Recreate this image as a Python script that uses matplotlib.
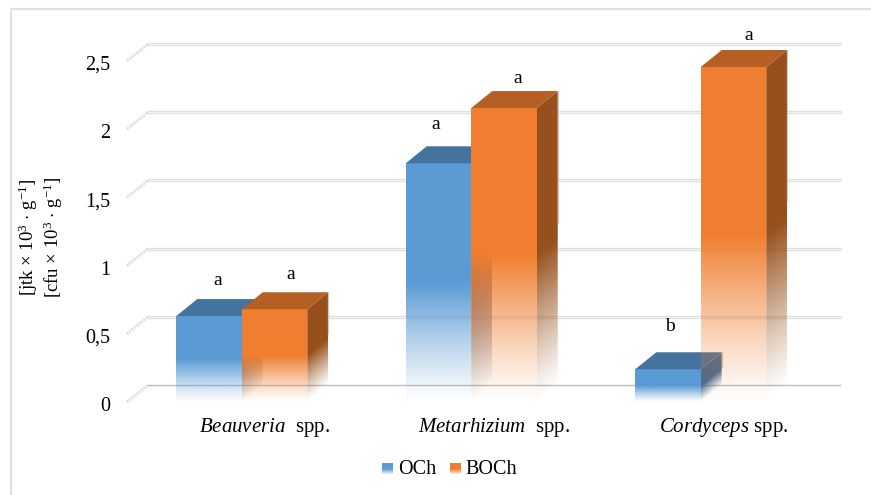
import numpy as np
import matplotlib
matplotlib.use('Agg')
import matplotlib.pyplot as plt
from matplotlib.colors import to_rgb
from matplotlib.lines import Line2D
from matplotlib.transforms import ScaledTranslation

plt.rcParams['font.family'] = ['Liberation Serif', 'DejaVu Serif']
plt.rcParams['mathtext.fontset'] = 'custom'
plt.rcParams['mathtext.rm'] = 'Liberation Serif'
plt.rcParams['mathtext.it'] = 'Liberation Serif:italic'
plt.rcParams['mathtext.bf'] = 'Liberation Serif:bold'

# Data
categories = [r'$\mathit{Beauveria}$  spp.', r'$\mathit{Metarhizium}$  spp.', r'$\mathit{Cordyceps}$ spp.']
series_names = ['OCh', 'BOCh']
och = [0.63, 1.75, 0.24]
boch = [0.68, 2.155, 2.456]
och_letters = ['a', 'a', 'b']
boch_letters = ['a', 'a', 'a']
y_ticks = [0, 0.5, 1, 1.5, 2, 2.5]
y_labels = ['0', '0,5', '1', '1,5', '2', '2,5']

# Styles: (face, top, side)
blue = ('#5B9BD5', '#44739E', '#46698F')
orange = ('#F07E30', '#B55F25', '#97501C')

W, H = 871, 495
y_top = 2.85
px_x = 229.5 * 3
px_y = 136.4 * y_top
dx = 21 / 229.5
dy = 17 / 136.4
bar_w = 65.5 / 229.5

fig = plt.figure(figsize=(W / 100, H / 100), dpi=100)
ax = fig.add_axes([127 / W, 1 - 402 / H, px_x / W, px_y / H])
for s in ax.spines.values():
    s.set_visible(False)
ax.patch.set_visible(False)

# outer frame
fig.add_artist(Line2D([10.5 / W, 10.5 / W, 1], [0, 1 - 8.5 / H, 1 - 8.5 / H], color='#e2e2e2', lw=1.6))

# gridlines on the back wall, with the slanted part down to the front plane
for t in y_ticks:
    yb = t + dy
    x0, x1 = -0.5 + dx, 2.5 + dx + 3 / 229.5
    if t == 0:
        ax.plot([x0, x1], [yb, yb], color='#bdbdbd', lw=1.0, zorder=1, clip_on=False)
    else:
        ax.plot([x0, x1], [yb, yb], color='#dedede', lw=2.4, zorder=1, solid_capstyle='round', clip_on=False)
        ax.plot([x0, x1], [yb, yb], color='#f5f5f5', lw=0.8, zorder=1, clip_on=False)
    ax.plot([-0.5, x0], [t, yb], color='#dcdcdc', lw=2.2, zorder=1, ls=(0, (0.6, 0.4)), clip_on=False)


def fade_image(poly, color, skew):
    # poly is filled with color, alpha dropping towards the floor of the chart
    poly = np.array(poly)
    xs = np.linspace(poly[:, 0].min(), poly[:, 0].max(), 60)
    ys = np.linspace(poly[:, 1].min(), poly[:, 1].max(), 300)
    gx, gy = np.meshgrid(xs, ys)
    img = np.zeros(gx.shape + (4,))
    img[..., :3] = to_rgb(color)
    return xs, ys, gy - (gx - xs[0]) * skew, img, poly


def draw_bar(left, value, colors, z):
    right = left + bar_w
    front = [(left, 0), (right, 0), (right, value), (left, value)]
    top = [(left, value), (right, value), (right + dx, value + dy), (left + dx, value + dy)]
    side = [(right, 0), (right + dx, dy), (right + dx, value + dy), (right, value)]
    fade_h = value * 0.5
    for poly, color, skew in ((side, colors[2], dy / dx), (front, colors[0], 0)):
        xs, ys, h, img, pts = fade_image(poly, color, skew)
        img[..., 3] = np.clip(h / fade_h, 0, 1) ** 1.15
        im = ax.imshow(img, extent=(xs[0], xs[-1], ys[0], ys[-1]), origin='lower',
                       aspect='auto', interpolation='bilinear', zorder=z)
        patch = plt.Polygon(pts, transform=ax.transData, fc='none', ec='none')
        ax.add_patch(patch)
        im.set_clip_path(patch)
    ax.fill(*zip(*top), color=colors[1], lw=0, zorder=z)
    # pale halo along the bar edge
    ax.plot([right + dx, right + dx], [value + dy, value * 0.55 + dy], color='#d9c9bd', lw=0.9, zorder=z)


for i in range(len(categories)):
    draw_bar(i - bar_w, och[i], blue, 3 + i)
    draw_bar(i, boch[i], orange, 3 + i + 0.5)

ax.set_xlim(-0.5, 2.5)
ax.set_ylim(0, y_top)

# significance letters, placed by hand in the original
och_off = [(9, 36), (-3, 39), (2, 43)]
boch_off = [(16, 35), (14, 30), (15, 32)]
for i in range(len(categories)):
    ax.annotate(och_letters[i], (i - bar_w / 2, och[i]), xytext=och_off[i], textcoords='offset pixels',
                ha='center', va='center', fontsize=14, annotation_clip=False)
    ax.annotate(boch_letters[i], (i + bar_w / 2, boch[i]), xytext=boch_off[i], textcoords='offset pixels',
                ha='center', va='center', fontsize=14, annotation_clip=False)

ax.set_yticks(y_ticks, y_labels, fontsize=14.5)
ax.set_xticks([i + dx + 0.008 for i in range(len(categories))], categories, fontsize=15)
ax.tick_params(axis='both', length=0)
ax.tick_params(axis='y', pad=12)
ax.tick_params(axis='x', pad=10)
shift = ScaledTranslation(0, -2 / 100, fig.dpi_scale_trans)
for lab in ax.get_yticklabels():
    lab.set_transform(lab.get_transform() + shift)

fig.text(41 / W, 1 - 237 / H, '[jtk $\\times$ 10$^{3}$ $\\cdot$ g$^{-1}$]\n[cfu $\\times$ 10$^{3}$ $\\cdot$ g$^{-1}$]',
         rotation=90, ha='center', va='center', fontsize=13.5, linespacing=1.1, multialignment='center')

# legend with small faded swatches
for name, colors, sx, tx in zip(series_names, (blue, orange), (382, 450), (398, 465)):
    sw = fig.add_axes([sx / W, 1 - 474 / H, 11 / W, 11 / H])
    g = np.ones((40, 1, 4))
    g[..., :3] = to_rgb(colors[0])
    g[:, 0, 3] = np.clip(np.linspace(0.15, 2.2, 40), 0, 1)
    sw.imshow(g, origin='lower', aspect='auto')
    sw.axis('off')
    fig.text(tx / W, 1 - 470 / H, name, ha='left', va='center', fontsize=14.5)

fig.savefig('out.png', dpi=100)
